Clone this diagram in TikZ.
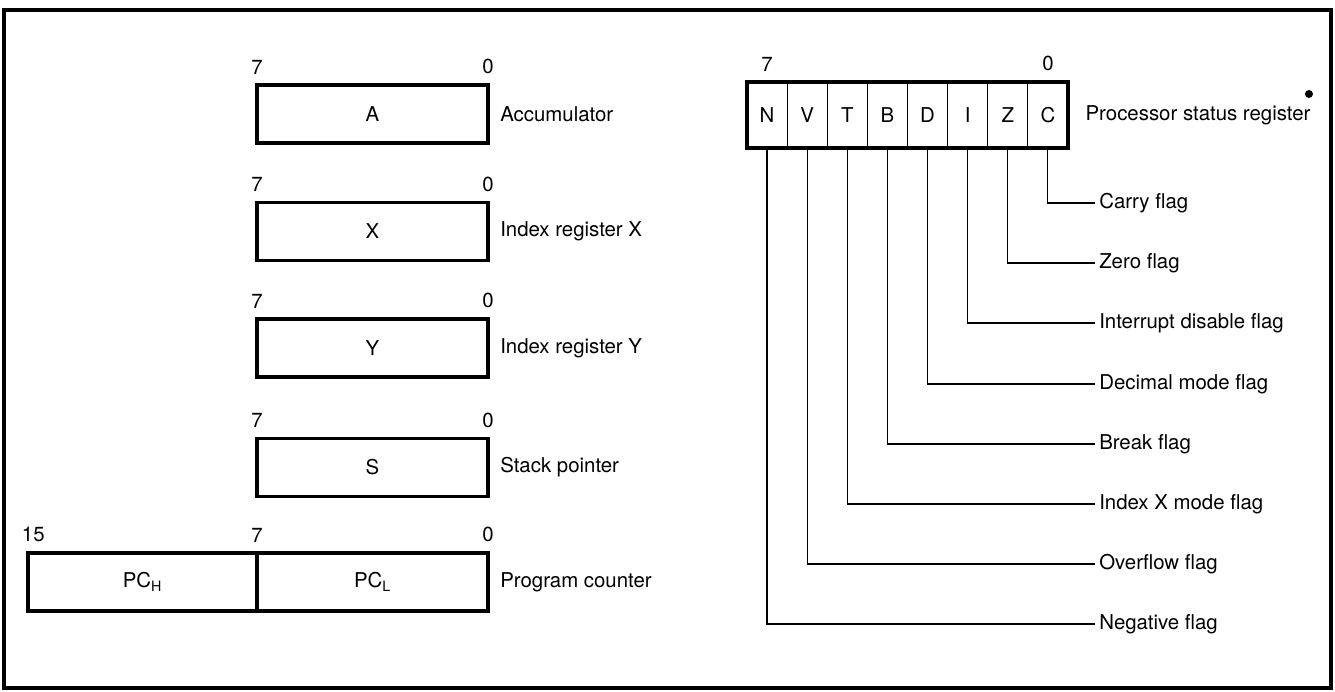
\documentclass[tikz,border=0pt]{standalone}
\usepackage{fontspec}
\setmainfont{TeX Gyre Heros}
\usetikzlibrary{positioning}

\begin{document}
\begin{tikzpicture}[
x=0.75pt, y=-0.75pt, font=\fontsize{15.3}{18}\selectfont,
reg-node/.style = {rectangle,draw=black,line width=2.5pt,minimum width=173.25pt,minimum height=43.5pt,inner sep=0pt,outer sep=0pt},
flag-node/.style = {rectangle,draw=black,line width=0.8pt,minimum width=30.1pt,minimum height=49.5pt,inner sep=0pt,outer sep=0pt},
bit-label/.style = {inner sep=0pt},
name-label/.style = {inner sep=0pt},
flag-label/.style = {inner sep=3pt,anchor=west},
flag-line/.style = {line width=0.8pt}
]

\useasboundingbox (0,0) rectangle (1335,692);
\draw [line width=2.5pt] (4,10) rectangle (1331,688);

% registers
\node [reg-node] (acc) at (372.5,114) {A};
\node [reg-node] (idx) at (372.5,231.5) {X};
\node [reg-node] (idy) at (372.5,348) {Y};
\node [reg-node] (stk) at (372.5,467.5) {S};
\node [reg-node] (pcl) at (372.5,582) {PC\textsubscript{L}};
\node [reg-node, minimum width=171.75pt, left=0pt of pcl] (pch) {PC\textsubscript{H}};

% bit numbers
\node [bit-label, above=8pt of acc.north west] {7};
\node [bit-label, above=8pt of acc.north east] {0};
\node [bit-label, above=8pt of idx.north west] {7};
\node [bit-label, above=8pt of idx.north east] {0};
\node [bit-label, above=8pt of idy.north west] {7};
\node [bit-label, above=8pt of idy.north east] {0};
\node [bit-label, above=8pt of stk.north west] {7};
\node [bit-label, above=8pt of stk.north east] {0};
\node [bit-label, above=8pt of pch.north west, xshift=4pt] {15};
\node [bit-label, above=8pt of pcl.north west] {7};
\node [bit-label, above=8pt of pcl.north east] {0};

% register names
\node [name-label, right=9pt of acc.east] {Accumulator};
\node [name-label, right=9pt of idx.east] {Index register X};
\node [name-label, right=9pt of idy.east] {Index register Y};
\node [name-label, right=9pt of stk.east] {Stack pointer};
\node [name-label, right=9pt of pcl.east] {Program counter};

% status register
\node [flag-node] (fn) at (767,115) {N};
\node [flag-node, right=0pt of fn] (fv) {V};
\node [flag-node, right=0pt of fv] (ft) {T};
\node [flag-node, right=0pt of ft] (fb) {B};
\node [flag-node, right=0pt of fb] (fd) {D};
\node [flag-node, right=0pt of fd] (fi) {I};
\node [flag-node, right=0pt of fi] (fz) {Z};
\node [flag-node, right=0pt of fz] (fc) {C};
\draw [line width=2.5pt] (fn.north west) rectangle (fc.south east);

\node [bit-label, above=8pt of fn.north] {7};
\node [bit-label, above=8pt of fc.north] {0};
\node [name-label, right=13pt of fc.east] (psr) {Processor status register};
\node [circle, fill=black, inner sep=0pt, minimum size=6pt] (dot) at (1309,94) {};

% flag names
\node [flag-label] (carry) at (1095,203) {Carry flag};
\node [flag-label] (zero) at (1095,263) {Zero flag};
\node [flag-label] (intr) at (1095,323) {Interrupt disable flag};
\node [flag-label] (decm) at (1095,384) {Decimal mode flag};
\node [flag-label] (brk) at (1095,444) {Break flag};
\node [flag-label] (xmode) at (1095,504) {Index X mode flag};
\node [flag-label] (ovf) at (1095,564) {Overflow flag};
\node [flag-label] (neg) at (1095,624) {Negative flag};

% flag lines
\draw [flag-line] (fc.south) |- (carry.west);
\draw [flag-line] (fz.south) |- (zero.west);
\draw [flag-line] (fi.south) |- (intr.west);
\draw [flag-line] (fd.south) |- (decm.west);
\draw [flag-line] (fb.south) |- (brk.west);
\draw [flag-line] (ft.south) |- (xmode.west);
\draw [flag-line] (fv.south) |- (ovf.west);
\draw [flag-line] (fn.south) |- (neg.west);

\end{tikzpicture}
\end{document}
